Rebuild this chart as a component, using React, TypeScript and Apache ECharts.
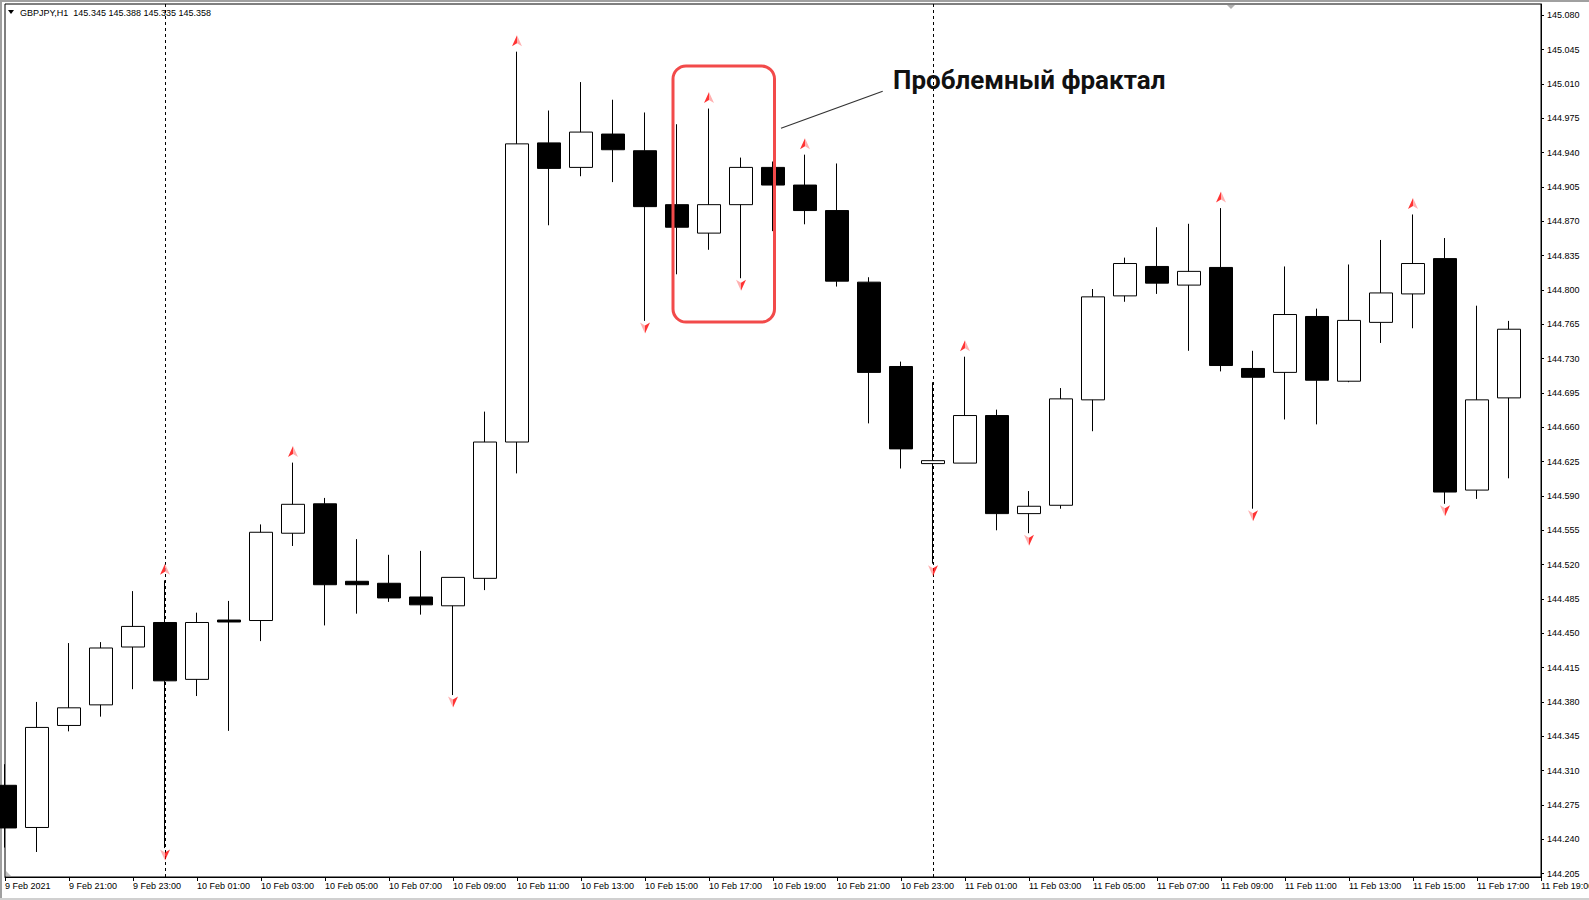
import React, { useEffect, useRef } from "react";
import * as echarts from "echarts";

// Hourly bar times (index 48 is the empty slot at the right edge)
const times = [
  "9 Feb 19:00", "9 Feb 20:00", "9 Feb 21:00", "9 Feb 22:00", "9 Feb 23:00",
  "10 Feb 00:00", "10 Feb 01:00", "10 Feb 02:00", "10 Feb 03:00", "10 Feb 04:00",
  "10 Feb 05:00", "10 Feb 06:00", "10 Feb 07:00", "10 Feb 08:00", "10 Feb 09:00",
  "10 Feb 10:00", "10 Feb 11:00", "10 Feb 12:00", "10 Feb 13:00", "10 Feb 14:00",
  "10 Feb 15:00", "10 Feb 16:00", "10 Feb 17:00", "10 Feb 18:00", "10 Feb 19:00",
  "10 Feb 20:00", "10 Feb 21:00", "10 Feb 22:00", "10 Feb 23:00",
  "11 Feb 00:00", "11 Feb 01:00", "11 Feb 02:00", "11 Feb 03:00", "11 Feb 04:00",
  "11 Feb 05:00", "11 Feb 06:00", "11 Feb 07:00", "11 Feb 08:00", "11 Feb 09:00",
  "11 Feb 10:00", "11 Feb 11:00", "11 Feb 12:00", "11 Feb 13:00", "11 Feb 14:00",
  "11 Feb 15:00", "11 Feb 16:00", "11 Feb 17:00", "11 Feb 18:00", "11 Feb 19:00",
];

const opens = [
  144.295, 144.252, 144.356, 144.377, 144.436, 144.461, 144.403, 144.4635, 144.463, 144.552,
  144.582, 144.503, 144.501, 144.487, 144.478, 144.506, 144.645, 144.950, 144.925, 144.959,
  144.942, 144.887, 144.858, 144.887, 144.925, 144.907, 144.881, 144.808, 144.722, 144.623,
  144.6235, 144.672, 144.572, 144.5805, 144.688, 144.794, 144.824, 144.805, 144.823, 144.720,
  144.716, 144.773, 144.707, 144.767, 144.796, 144.832, 144.596, 144.690,
];
const closes = [
  144.2515, 144.354, 144.374, 144.435, 144.457, 144.4015, 144.461, 144.4615, 144.553, 144.5815,
  144.4995, 144.4995, 144.486, 144.479, 144.507, 144.645, 144.949, 144.924, 144.961, 144.943,
  144.885, 144.864, 144.887, 144.925, 144.907, 144.881, 144.809, 144.716, 144.638, 144.626,
  144.672, 144.572, 144.5795, 144.689, 144.793, 144.827, 144.807, 144.819, 144.723, 144.711,
  144.775, 144.708, 144.769, 144.797, 144.827, 144.594, 144.688, 144.760,
];
const lows = [
  144.2315, 144.227, 144.350, 144.365, 144.393, 144.231, 144.386, 144.3505, 144.442, 144.539,
  144.458, 144.470, 144.482, 144.469, 144.387, 144.494, 144.613, 144.866, 144.916, 144.910,
  144.7685, 144.816, 144.841, 144.812, 144.860, 144.867, 144.8035, 144.664, 144.618, 144.521,
  144.6235, 144.555, 144.552, 144.577, 144.656, 144.788, 144.796, 144.738, 144.717, 144.577,
  144.668, 144.663, 144.706, 144.746, 144.761, 144.582, 144.587, 144.608,
];
const highs = [
  144.3165, 144.380, 144.440, 144.441, 144.493, 144.504, 144.471, 144.483, 144.561, 144.624,
  144.588, 144.546, 144.530, 144.534, 144.507, 144.676, 145.043, 144.983, 145.012, 144.994,
  144.981, 144.969, 144.985, 144.935, 144.931, 144.938, 144.929, 144.813, 144.727, 144.706,
  144.732, 144.678, 144.595, 144.700, 144.801, 144.833, 144.864, 144.8675, 144.8835, 144.738,
  144.824, 144.781, 144.826, 144.851, 144.877, 144.853, 144.784, 144.7685,
];

const fractalUpIdx = [5, 9, 16, 22, 25, 30, 38, 44];
const fractalDownIdx = [5, 14, 20, 23, 29, 32, 39, 45];
const separatorTimes = ["10 Feb 00:00", "11 Feb 00:00"];

const yTicks = [
  144.205, 144.24, 144.275, 144.31, 144.345, 144.38, 144.415, 144.45, 144.485, 144.52,
  144.555, 144.59, 144.625, 144.66, 144.695, 144.73, 144.765, 144.8, 144.835, 144.87,
  144.905, 144.94, 144.975, 145.01, 145.045, 145.08,
];
const firstTickLabel = "9 Feb 2021";
const titleText = "GBPJPY,H1  145.345 145.388 145.335 145.358";
const annotationText = "Проблемный фрактал";

export default function App() {
  const ref = useRef<HTMLDivElement>(null);
  useEffect(() => {
    const chart = echarts.init(ref.current!, null, { renderer: "svg" });
    const font = "'Liberation Sans', Arial, sans-serif";
    const candles = opens.map((o, i) => [o, closes[i], lows[i], highs[i]]);
    const upGrad = new echarts.graphic.LinearGradient(0, 0, 1, 0, [
      { offset: 0, color: "#ff0000" },
      { offset: 0.5, color: "#ff0000" },
      { offset: 0.5, color: "#ff9c9c" },
      { offset: 1, color: "#ff9c9c" },
    ]);
    const downGrad = new echarts.graphic.LinearGradient(0, 0, 1, 0, [
      { offset: 0, color: "#ff9c9c" },
      { offset: 0.5, color: "#ff9c9c" },
      { offset: 0.5, color: "#ff0000" },
      { offset: 1, color: "#ff0000" },
    ]);
    chart.setOption({
      animation: false,
      backgroundColor: "#fff",
      grid: {
        left: 5, top: 4, right: 48, bottom: 23,
        outerBoundsMode: "none",
        containLabel: false,
        show: true, borderColor: "#000", borderWidth: 1, backgroundColor: "#fff",
      },
      xAxis: {
        type: "category",
        data: times,
        boundaryGap: false,
        axisLine: { lineStyle: { color: "#000", width: 1 } },
        axisTick: { show: true, interval: 1, length: 4, lineStyle: { color: "#000" } },
        axisLabel: {
          interval: 1,
          align: "left",
          margin: 4,
          fontSize: 9,
          fontFamily: font,
          color: "#000",
          showMaxLabel: true,
          showMinLabel: true,
          formatter: (v: string, i: number) => (i === 0 ? firstTickLabel : v),
        },
        splitLine: { show: false },
      },
      yAxis: {
        type: "value",
        position: "right",
        min: 144.2015,
        max: 145.0916,
        scale: true,
        axisLine: { show: true, lineStyle: { color: "#000", width: 1 } },
        axisTick: { show: true, length: 3, customValues: yTicks, lineStyle: { color: "#000" } },
        axisLabel: {
          customValues: yTicks,
          margin: 6,
          fontSize: 9,
          fontFamily: font,
          color: "#000",
          formatter: (v: number) => v.toFixed(3),
        },
        splitLine: { show: false },
      },
      graphic: [
        { type: "line", shape: { x1: 0, y1: 1, x2: 1589, y2: 1 }, style: { stroke: "#a0a0a0", lineWidth: 2 }, silent: true },
        { type: "line", shape: { x1: 1, y1: 0, x2: 1, y2: 900 }, style: { stroke: "#a0a0a0", lineWidth: 2 }, silent: true },
        { type: "line", shape: { x1: 0, y1: 899, x2: 1589, y2: 899 }, style: { stroke: "#d0d0d0", lineWidth: 2 }, silent: true },
        { type: "polygon", shape: { points: [[8, 10], [14, 10], [11, 14]] }, style: { fill: "#000" }, silent: true, z: 10 },
        {
          type: "text", x: 20, y: 12.5, z: 10, silent: true,
          style: { text: titleText, fontSize: 9, fontFamily: font, fill: "#000", verticalAlign: "middle" },
        },
        { type: "polygon", shape: { points: [[1227, 5], [1235, 5], [1231, 9]] }, style: { fill: "#b0b0b0" }, silent: true, z: 10 },
        { type: "polygon", shape: { points: [[6, 871], [6, 876], [11, 876]] }, style: { fill: "#c0c0c0" }, silent: true, z: 10 },
        {
          type: "rect", z: 20, silent: true,
          shape: { x: 673, y: 66, width: 101.5, height: 256, r: 13 },
          style: { fill: "none", stroke: "#f24a4a", lineWidth: 3 },
        },
        {
          type: "line", z: 20, silent: true,
          shape: { x1: 781, y1: 128.3, x2: 882.7, y2: 91.3 },
          style: { stroke: "#333", lineWidth: 1.2 },
        },
        {
          type: "text", x: 893, y: 80, z: 20, silent: true,
          style: {
            text: annotationText, fontSize: 26, fontWeight: "bold", fontFamily: "Roboto, 'Noto Sans', sans-serif",
            fill: "#111", verticalAlign: "middle",
          },
        },
      ],
      series: [
        {
          type: "candlestick",
          data: candles,
          barWidth: 23,
          itemStyle: {
            color: "#fff",
            color0: "#000",
            borderColor: "#000",
            borderColor0: "#000",
            borderWidth: 1,
          },
          markLine: {
            silent: true,
            symbol: "none",
            label: { show: false },
            lineStyle: { color: "#000", type: [3, 3], width: 1 },
            data: separatorTimes.map((t) => ({ xAxis: t })),
            z: 1,
          },
        },
        {
          type: "scatter",
          symbol: "path://M5,0 L10,11 L5,8 L0,11 Z",
          symbolSize: [10, 11],
          symbolOffset: [0, -11],
          itemStyle: { color: upGrad },
          z: 5,
          data: fractalUpIdx.map((i) => [times[i], highs[i]]),
        },
        {
          type: "scatter",
          symbol: "path://M0,0 L5,3 L10,0 L5,11 Z",
          symbolSize: [10, 11],
          symbolOffset: [0, 7],
          itemStyle: { color: downGrad },
          z: 5,
          data: fractalDownIdx.map((i) => [times[i], lows[i]]),
        },
      ],
    });
    return () => chart.dispose();
  }, []);
  return (
    <div
      ref={ref}
      style={{ position: "fixed", left: 0, top: 0, width: 1589, height: 900, background: "#fff" }}
    />
  );
}
